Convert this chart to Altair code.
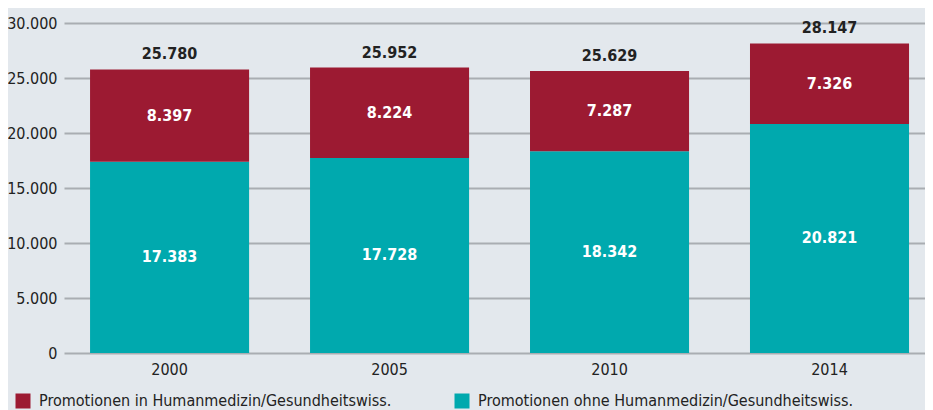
import altair as alt
import pandas as pd

years = ["2000", "2005", "2010", "2014"]
ohne = [17383, 17728, 18342, 20821]
mit = [8397, 8224, 7287, 7326]
series = ["Promotionen in Humanmedizin/Gesundheitswiss.",
          "Promotionen ohne Humanmedizin/Gesundheitswiss."]
colors = ["#9c1a32", "#00a9ae"]
y_ticks = [0, 5000, 10000, 15000, 20000, 25000, 30000]

rows = []
for i, y in enumerate(years):
    rows.append({"year": y, "series": series[1], "value": ohne[i], "ord": 0})
    rows.append({"year": y, "series": series[0], "value": mit[i], "ord": 1})
df = pd.DataFrame(rows)
tot = pd.DataFrame({"year": years, "total": [a + b for a, b in zip(ohne, mit)]})

FONT = "DejaVu Sans Condensed, Roboto Condensed, Roboto, sans-serif"
FS = 16
de = "replace(format(datum.{f}, ','), ',', '.')"

x = alt.X("year:N", sort=years, title=None,
          scale=alt.Scale(paddingInner=0.277, paddingOuter=0.0955, align=0.62),
          axis=alt.Axis(labelAngle=0, ticks=False, domain=False, labelPadding=8,
                        labelFontSize=FS, labelColor="#222", labelFont=FONT))

bars = alt.Chart(df).mark_bar().encode(
    x=x,
    y=alt.Y("value:Q", stack="zero", title=None,
            scale=alt.Scale(domain=[0, 30000], nice=False),
            axis=alt.Axis(values=y_ticks, ticks=False, domain=False, grid=True,
                          gridColor="#a9adb2", gridWidth=2, labelPadding=7,
                          labelFontSize=FS, labelColor="#222", labelFont=FONT,
                          labelExpr="replace(format(datum.value, ','), ',', '.')")),
    color=alt.Color("series:N", scale=alt.Scale(domain=series, range=colors),
                    legend=alt.Legend(title=None, orient="none", legendX=-49, legendY=370,
                                      direction="horizontal", columns=2, gridAlign="all",
                                      columnPadding=39, symbolType="square", symbolSize=225,
                                      symbolStrokeWidth=0, labelOffset=8, labelFontSize=FS,
                                      labelColor="#222", labelFont=FONT, labelLimit=0,
                                      padding=0)),
    order=alt.Order("ord:Q"),
)

seg_text = alt.Chart(df).transform_stack(
    stack="value", groupby=["year"], as_=["v0", "v1"], sort=[alt.SortField("ord")]
).transform_calculate(
    mid="(datum.v0 + datum.v1) / 2", lab=de.format(f="value")
).mark_text(font=FONT, fontSize=FS, fontWeight="bold", color="white", baseline="middle").encode(
    x=alt.X("year:N", sort=years),
    y=alt.Y("mid:Q"),
    text="lab:N",
)

tot_text = alt.Chart(tot).transform_calculate(lab=de.format(f="total")).mark_text(
    font=FONT, fontSize=FS, fontWeight="bold", color="#222", baseline="alphabetic", dy=-10
).encode(
    x=alt.X("year:N", sort=years),
    y=alt.Y("total:Q"),
    text="lab:N",
)

chart = alt.layer(bars, seg_text, tot_text).properties(
    width=861, height=330,
    padding={"left": 56, "top": 15, "right": 0, "bottom": 57},
    autosize=alt.AutoSizeParams(type="none"),
    background="#e3e8ed",
).configure_view(stroke=None)

chart.save("out.html", embed_options={"renderer": "svg", "actions": False})
